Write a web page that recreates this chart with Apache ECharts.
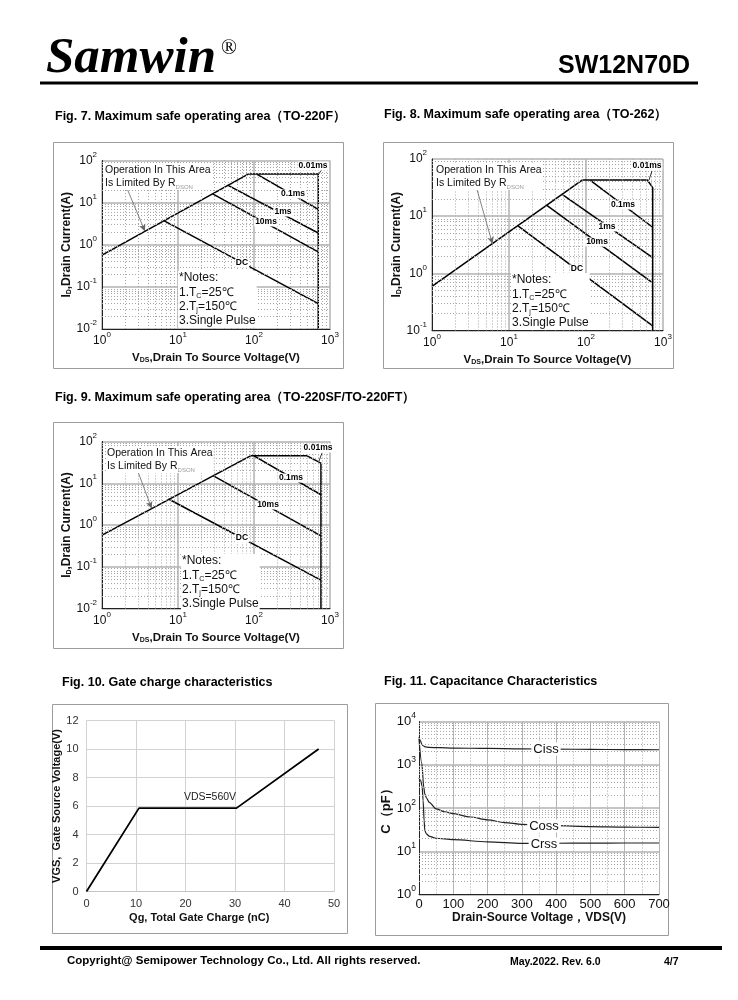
<!DOCTYPE html>
<html>
<head>
<meta charset="utf-8">
<title>SW12N70D</title>
<script src="https://cdn.jsdelivr.net/npm/echarts@6.0.0/dist/echarts.min.js"></script>
<style>
html,body{margin:0;padding:0;background:#ffffff;}
#chart{width:738px;height:1000px;}
</style>
</head>
<body>
<div id="chart"></div>
<script>
// ===== Fig. 7  SOA (TO-220F): [VDS (V), ID (A)] =====
const f7Rdson = [[1, 0.57], [85, 48]];
const f7Us10  = [[85, 48], [700, 48], [700, 0.01]];
const f7Us100 = [[110, 47], [700, 6.9]];
const f7Ms1   = [[45, 26], [700, 1.9]];
const f7Ms10  = [[28.6, 16.2], [700, 0.68]];
const f7Dc    = [[6.6, 3.7], [700, 0.04]];
const f7Arrow = [[2.0, 28.8], [3.67, 2.1]];

// ===== Fig. 8  SOA (TO-262) =====
const f8Rdson = [[1, 0.59], [90, 43]];
const f8Us10  = [[90, 43], [625, 43], [735, 31.5], [735, 0.1]];
const f8Us100 = [[115, 42], [735, 6.4]];
const f8Ms1   = [[50, 23.5], [735, 1.88]];
const f8Ms10  = [[31, 15.4], [735, 0.68]];
const f8Dc    = [[13.2, 6.7], [735, 0.12]];
const f8Arrow = [[3.8, 30.6], [6.1, 3.3]];

// ===== Fig. 9  SOA (TO-220SF/TO-220FT) =====
const f9Rdson = [[1, 0.57], [90, 45.4]];
const f9Us10  = [[90, 45.4], [500, 45.4], [760, 30.3], [760, 0.01]];
const f9Us100 = [[100, 45.4], [760, 5.3]];
const f9Ms10  = [[29.3, 15], [760, 0.55]];
const f9Dc    = [[7.5, 4.2], [760, 0.048]];
const f9Arrow = [[2.7, 30.3], [4.5, 2.5]];

// ===== Fig. 10  Gate charge =====
const gcQg  = [0, 10.6, 30.3, 46.9];     // nC
const gcVgs = [0, 5.85, 5.85, 10];       // V

// ===== Fig. 11  Capacitance: [VDS (V), C (pF)] =====
const cissData = [[0, 4400], [4, 3600], [8, 3000], [12, 2750], [18, 2600], [30, 2520], [60, 2480],
  [100, 2430], [200, 2380], [300, 2330], [400, 2300], [500, 2270], [600, 2240], [700, 2220]];
const cossData = [[0, 4000], [8, 1100], [14, 300], [17, 210], [22, 170], [30, 135], [50, 95], [75, 82],
  [100, 74], [150, 62], [200, 53], [250, 46], [300, 42], [400, 39], [500, 37], [600, 36], [700, 35.5]];
const crssData = [[0, 500], [5, 430], [9, 320], [12, 150], [15, 50], [17, 30], [22, 25], [31, 22],
  [50, 20], [100, 18.5], [200, 16.5], [300, 15.2], [400, 15.3], [500, 15.4], [600, 15.5], [700, 15.5]];

// axis ranges
const soaXRange  = [1, 1000];
const f7YRange   = [0.01, 100];
const f8YRange   = [0.1, 100];
const f9YRange   = [0.01, 100];
const gcXRange   = [0, 50];
const gcYRange   = [0, 12];
const capXRange  = [0, 700];
const capYRange  = [1, 10000];

const FF = "'Liberation Sans', Arial, sans-serif";

function logLabel(v) {
  const e = Math.round(Math.log10(v));
  return '10{s|' + e + '}';
}
function minorLog(min, max) {
  const out = [];
  for (let d = Math.round(Math.log10(min)); d < Math.round(Math.log10(max)); d++) {
    const b = Math.pow(10, d);
    for (let k = 2; k <= 9; k++) out.push(+(k * b).toPrecision(3));
  }
  return out;
}
function logAxis(gi, range, name, gap, margin, nameSize, fs, sfs) {
  fs = fs || 12; sfs = sfs || 8;
  return {
    type: 'log', logBase: 10, gridIndex: gi, min: range[0], max: range[1],
    axisLine: { show: true, lineStyle: { color: '#222', width: 1 } },
    axisTick: { show: false },
    splitLine: { show: true, lineStyle: { color: '#b2b2b2', width: 1.5 } },
    axisLabel: { margin: margin, color: '#111', fontSize: fs, lineHeight: 20, fontFamily: FF, formatter: logLabel,
      rich: { s: { fontSize: sfs, lineHeight: 9, fontFamily: FF, color: '#111', verticalAlign: 'top' } } },
    name: name, nameLocation: 'middle', nameGap: gap,
    nameTextStyle: { color: '#111', fontWeight: 'bold', fontSize: nameSize, fontFamily: FF,
      rich: { sub: { fontSize: 7, fontWeight: 'bold', fontFamily: FF, color: '#111', verticalAlign: 'bottom' } } }
  };
}
function line(data, gi, w) {
  return { type: 'line', xAxisIndex: gi, yAxisIndex: gi, data: data, symbol: 'none', silent: true,
    z: 3, lineStyle: { color: '#000', width: w || 1.5 }, animation: false };
}
function arrow(pts, gi) {
  return { type: 'line', xAxisIndex: gi, yAxisIndex: gi, data: [], symbol: 'none', silent: true, z: 4,
    markLine: { silent: true, animation: false, symbol: ['none', 'arrow'], symbolSize: [5, 7],
      label: { show: false }, lineStyle: { color: '#666', width: 0.8, type: 'solid' },
      data: [[{ coord: pts[0] }, { coord: pts[1] }]] } };
}
function minorGrid(gi, xs, ys) {
  const d = xs.map(v => ({ xAxis: v })).concat(ys.map(v => ({ yAxis: v })));
  return { type: 'line', xAxisIndex: gi, yAxisIndex: gi, data: [], symbol: 'none', silent: true, z: 1,
    markLine: { silent: true, animation: false, symbol: ['none', 'none'], label: { show: false },
      emphasis: { disabled: true },
      lineStyle: { color: '#a6a6a6', width: 1, type: [1, 2] }, data: d } };
}

// ---------------- graphic (page text, frames) ----------------
const G = [];
function txt(x, y, text, o) {
  G.push({ type: 'text', z: 100, style: Object.assign({ x: x, y: y, text: text, fill: '#000',
    fontFamily: FF, fontSize: 12, align: 'left', verticalAlign: 'middle' }, o || {}) });
}
function rect(x, y, w, h) {
  G.push({ type: 'rect', z: 0, shape: { x: x, y: y, width: w, height: h },
    style: { fill: 'none', stroke: '#9c9c9c', lineWidth: 1 } });
}
function seg(x1, y1, x2, y2, w, c) {
  G.push({ type: 'line', z: 100, shape: { x1: x1, y1: y1, x2: x2, y2: y2 },
    style: { stroke: c || '#000', lineWidth: w } });
}

// header
txt(46, 59, 'Samwin', { fontFamily: "'Liberation Serif', 'Times New Roman', serif", fontStyle: 'italic', fontWeight: 'bold', fontSize: 51 });
txt(221, 48, '®', { fontFamily: "'Liberation Serif', serif", fontSize: 21 });
txt(690, 66, 'SW12N70D', { align: 'right', fontWeight: 'bold', fontSize: 25 });
seg(40, 83, 698, 83, 3);

// titles
const TB = { fontWeight: 'bold', fontSize: 12.5 };
txt(55, 117, 'Fig. 7. Maximum safe operating area（TO-220F）', TB);
txt(384, 115, 'Fig. 8. Maximum safe operating area（TO-262）', TB);
txt(55, 398, 'Fig. 9. Maximum safe operating area（TO-220SF/TO-220FT）', TB);
txt(62, 683, 'Fig. 10. Gate charge characteristics', TB);
txt(384, 682, 'Fig. 11. Capacitance Characteristics', TB);

// frames
rect(53.5, 142.5, 290, 226);
rect(383.5, 142.5, 290, 226);
rect(53.5, 422.5, 290, 226);
rect(52.5, 704.5, 295, 229);
rect(375.5, 703.5, 293, 232);

// SOA in-plot texts
const opRich = { sub: { fontSize: 6, fill: '#9a9a9a', color: '#9a9a9a', verticalAlign: 'bottom' } };
function soaTexts(ox, oy, nx, ny) {
  txt(ox, oy, 'Operation In This Area\nIs Limited By R{sub|DSON}', { fontSize: 10.5, lineHeight: 13.5,
    verticalAlign: 'top', fill: '#111', backgroundColor: '#fff', padding: [0, 1, 0, 1], rich: opRich });
  txt(nx, ny, '*Notes:\n1.T{sub|C}=25℃\n2.T{sub|j}=150℃\n3.Single Pulse', { fontSize: 12, lineHeight: 14.2,
    verticalAlign: 'top', fill: '#111', backgroundColor: '#fff', padding: [0, 1, 0, 1],
    rich: { sub: { fontSize: 7, fill: '#111', color: '#111', verticalAlign: 'bottom' } } });
}
soaTexts(104, 163, 178, 271);
soaTexts(435, 163, 511, 273);
soaTexts(106, 446, 181, 554);

const LB = { align: 'center', fontWeight: 'bold', fontSize: 8.5, backgroundColor: '#fff', padding: [0, 1, 0, 1] };
// fig 7 labels
txt(313, 166, '0.01ms', LB); seg(321, 170.5, 318.5, 174.5, 0.8);
txt(293, 194, '0.1ms', LB);
txt(283, 212, '1ms', LB);
txt(266, 222, '10ms', LB);
txt(242, 263, 'DC', LB);
// fig 8 labels
txt(647, 166, '0.01ms', LB); seg(652, 171, 649, 180, 0.8);
txt(623, 205, '0.1ms', LB);
txt(607, 227, '1ms', LB);
txt(597, 242, '10ms', LB);
txt(577, 269, 'DC', LB);
// fig 9 labels
txt(318, 448, '0.01ms', LB); seg(322, 453, 319, 461, 0.8);
txt(291, 478, '0.1ms', LB);
txt(268, 505, '10ms', LB);
txt(242, 538, 'DC', LB);

// fig 10 label
txt(210, 797, 'VDS=560V', { align: 'center', fontSize: 10.5, fill: '#222' });
// fig 11 labels
const CL = { align: 'center', fontSize: 13, fill: '#111', backgroundColor: '#fff', padding: [0, 2, 0, 2] };
txt(546, 749, 'Ciss', CL);
txt(544, 826, 'Coss', CL);
txt(544, 844, 'Crss', CL);

// footer
seg(40, 948, 722, 948, 4);
txt(67, 961, 'Copyright@ Semipower Technology Co., Ltd. All rights reserved.', { fontWeight: 'bold', fontSize: 11.5 });
txt(510, 962, 'May.2022. Rev. 6.0', { fontWeight: 'bold', fontSize: 10.5 });
txt(664, 962, '4/7', { fontWeight: 'bold', fontSize: 10.5 });

// ---------------- option ----------------
const chart = echarts.init(document.getElementById('chart'), null, { renderer: 'canvas', width: 738, height: 1000 });

const soaXMinor = minorLog(soaXRange[0], soaXRange[1]);

const option = {
  animation: false,
  backgroundColor: '#ffffff',
  grid: [
    { left: 102, top: 160.5, width: 228, height: 168.5, outerBoundsMode: 'none', containLabel: false },
    { left: 432, top: 159, width: 231, height: 171.5, outerBoundsMode: 'none', containLabel: false },
    { left: 102, top: 441.5, width: 228, height: 167, outerBoundsMode: 'none', containLabel: false },
    { left: 86.5, top: 720.5, width: 247.5, height: 171, outerBoundsMode: 'none', containLabel: false },
    { left: 419, top: 721.5, width: 240, height: 173, outerBoundsMode: 'none', containLabel: false }
  ],
  xAxis: [
    logAxis(0, soaXRange, 'V{sub|DS},Drain To Source Voltage(V)', 16, 2, 11.5),
    logAxis(1, soaXRange, 'V{sub|DS},Drain To Source Voltage(V)', 15, 2, 11.5),
    logAxis(2, soaXRange, 'V{sub|DS},Drain To Source Voltage(V)', 18, 2, 11.5),
    {
      type: 'value', gridIndex: 3, min: gcXRange[0], max: gcXRange[1], interval: 10,
      axisLine: { show: true, lineStyle: { color: '#c4c4c4', width: 1 } },
      axisTick: { show: false },
      splitLine: { show: true, lineStyle: { color: '#d2d2d2', width: 1 } },
      axisLabel: { margin: 7, color: '#333', fontSize: 11, fontFamily: FF },
      name: 'Qg, Total Gate Charge (nC)', nameLocation: 'middle', nameGap: 21,
      nameTextStyle: { color: '#111', fontWeight: 'bold', fontSize: 11, fontFamily: FF, padding: [0, 22, 0, 0] }
    },
    {
      type: 'value', gridIndex: 4, min: capXRange[0], max: capXRange[1], interval: 100,
      axisLine: { show: true, lineStyle: { color: '#222', width: 1 } },
      axisTick: { show: false },
      splitLine: { show: true, lineStyle: { color: '#b4b4b4', width: 1 } },
      minorTick: { show: false, splitNumber: 2 },
      minorSplitLine: { show: true, lineStyle: { color: '#a6a6a6', width: 1, type: [1, 2] } },
      axisLabel: { margin: 3, color: '#111', fontSize: 13, fontFamily: FF },
      name: 'Drain-Source Voltage，VDS(V)', nameLocation: 'middle', nameGap: 15,
      nameTextStyle: { color: '#111', fontWeight: 'bold', fontSize: 12, fontFamily: FF }
    }
  ],
  yAxis: [
    logAxis(0, f7YRange, 'I{sub|D},Drain Current(A)', 28, 5, 12),
    logAxis(1, f8YRange, 'I{sub|D},Drain Current(A)', 25, 5, 12),
    logAxis(2, f9YRange, 'I{sub|D},Drain Current(A)', 25, 5, 12),
    {
      type: 'value', gridIndex: 3, min: gcYRange[0], max: gcYRange[1], interval: 2,
      axisLine: { show: false },
      axisTick: { show: false },
      splitLine: { show: true, lineStyle: { color: '#d2d2d2', width: 1 } },
      axisLabel: { margin: 8, color: '#333', fontSize: 11, fontFamily: FF },
      name: 'VGS,  Gate Source Voltage(V)', nameLocation: 'middle', nameGap: 16,
      nameTextStyle: { color: '#111', fontWeight: 'bold', fontSize: 11, fontFamily: FF }
    },
    logAxis(4, capYRange, 'C（pF）', 25, 3, 13, 13, 8.5)
  ],
  series: [
    // fig 7
    minorGrid(0, soaXMinor, minorLog(f7YRange[0], f7YRange[1])),
    line(f7Rdson, 0), line(f7Us10, 0), line(f7Us100, 0), line(f7Ms1, 0), line(f7Ms10, 0), line(f7Dc, 0),
    arrow(f7Arrow, 0),
    // fig 8
    minorGrid(1, soaXMinor, minorLog(f8YRange[0], f8YRange[1])),
    line(f8Rdson, 1), line(f8Us10, 1), line(f8Us100, 1), line(f8Ms1, 1), line(f8Ms10, 1), line(f8Dc, 1),
    arrow(f8Arrow, 1),
    // fig 9
    minorGrid(2, soaXMinor, minorLog(f9YRange[0], f9YRange[1])),
    line(f9Rdson, 2), line(f9Us10, 2), line(f9Us100, 2), line(f9Ms10, 2), line(f9Dc, 2),
    arrow(f9Arrow, 2),
    // fig 10
    { type: 'line', xAxisIndex: 3, yAxisIndex: 3, data: gcQg.map((q, i) => [q, gcVgs[i]]), symbol: 'none',
      silent: true, z: 3, lineStyle: { color: '#000', width: 1.8 } },
    // fig 11
    minorGrid(4, [], minorLog(capYRange[0], capYRange[1])),
    { type: 'line', xAxisIndex: 4, yAxisIndex: 4, name: 'Ciss', data: cissData, symbol: 'none', silent: true,
      smooth: 0.3, smoothMonotone: 'x', z: 3, lineStyle: { color: '#222', width: 1.2 } },
    { type: 'line', xAxisIndex: 4, yAxisIndex: 4, name: 'Coss', data: cossData, symbol: 'none', silent: true,
      smooth: 0.3, smoothMonotone: 'x', z: 3, lineStyle: { color: '#222', width: 1.2 } },
    { type: 'line', xAxisIndex: 4, yAxisIndex: 4, name: 'Crss', data: crssData, symbol: 'none', silent: true,
      smooth: 0.3, smoothMonotone: 'x', z: 3, lineStyle: { color: '#222', width: 1.2 } }
  ],
  graphic: { elements: G }
};
chart.setOption(option);
</script>
</body>
</html>
